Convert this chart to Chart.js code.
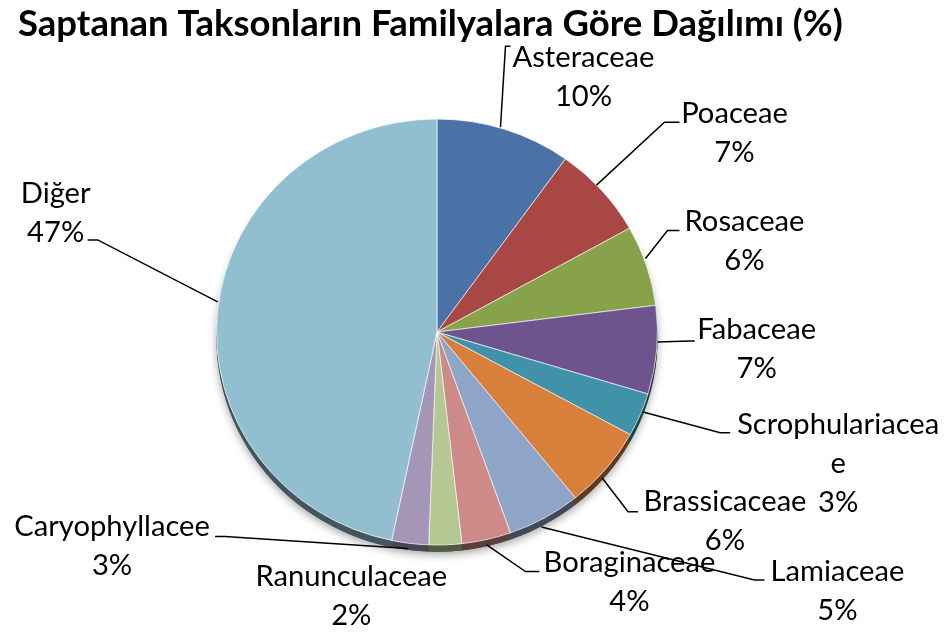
<!DOCTYPE html>
<html>
<head>
<meta charset="utf-8">
<script src="https://cdn.jsdelivr.net/npm/chart.js@4"></script>
<style>
  html, body { margin: 0; padding: 0; background: #ffffff; }
  #wrap { width: 950px; height: 633px; position: relative; }
</style>
</head>
<body>
<div id="wrap"><canvas id="c" width="950" height="633"></canvas></div>
<script>
// ---- data ----
const titleText = 'Saptanan Taksonların Familyalara Göre Dağılımı (%)';
const categories = ['Asteraceae', 'Poaceae', 'Rosaceae', 'Fabaceae', 'Scrophulariaceae', 'Brassicaceae', 'Lamiaceae', 'Boraginaceae', 'Ranunculaceae', 'Caryophyllacee', 'Diğer'];
const values = [9.9, 7.0, 6.1, 6.7, 3.3, 6.2, 5.4, 3.6, 2.4, 2.7, 46.7];
const percentLabels = ['10%', '7%', '6%', '7%', '3%', '6%', '5%', '4%', '2%', '3%', '47%'];
const nameLines = [['Asteraceae'], ['Poaceae'], ['Rosaceae'], ['Fabaceae'], ['Scrophulariacea', 'e'], ['Brassicaceae'], ['Lamiaceae'], ['Boraginaceae'], ['Ranunculaceae'], ['Caryophyllacee'], ['Diğer']];

// ---- styles ----
const colors = ['#4a72a6', '#a94744', '#88a24c', '#6e548c', '#3f92a8', '#d87f3b', '#8ea5c8', '#cd8a88', '#b5c893', '#a596b8', '#92bfd0'];
const FONT = 'Lato, "Open Sans", sans-serif';
const TILT = 0.966;   // slight perspective squash of the pie
const DEPTH = 7;      // thickness of the pie rim
// label layout relative to the outer-edge midpoint of each slice
const labelLayout = [
  { text: [79, -72],   start: [-4, -2], elbow: [1, -83],   end: [6, -83] },
  { text: [133, -77],  start: [-5, -5], elbow: [63, -68],  end: [78, -68] },
  { text: [98, -44],   start: [-1, -7], elbow: [21, -35],  end: [33, -35] },
  { text: [100, -20],  start: [1, -8],  elbow: [33, -9],   end: [38, -9] },
  { text: [198, 10],   start: [2, -3],  elbow: [80, 18],   end: [90, 18] },
  { text: [119, 33],   start: [-4, 9],  elbow: [22, 43],   end: [32, 43] },
  { text: [293, 54],   start: [-3, 9],  elbow: [210, 62],  end: [220, 62] },
  { text: [143, 23],   start: [0, 5],   elbow: [39, 32],   end: [53, 32] },
  { text: [-94, 32],   start: null,     elbow: null,       end: null },
  { text: [-298, -17], start: [-2, 5],  elbow: [-185, -7], end: [-195, -7] },
  { text: [-162, -116],start: [0, -8],  elbow: [-120, -70],end: [-130, -70] }
];

function darken(hex, f) {
  const n = parseInt(hex.slice(1), 16);
  const r = Math.round(((n >> 16) & 255) * f), g = Math.round(((n >> 8) & 255) * f), b = Math.round((n & 255) * f);
  return `rgb(${r},${g},${b})`;
}

const depthPlugin = {
  id: 'depth',
  beforeDatasetsDraw(chart) {
    const ctx = chart.ctx;
    const arcs = chart.getDatasetMeta(0).data;
    const a0 = arcs[0];
    ctx.save();
    ctx.translate(a0.x, a0.y);
    ctx.scale(1, TILT);
    ctx.translate(-a0.x, -a0.y);
    // soft shadow
    ctx.save();
    ctx.shadowColor = 'rgba(0,0,0,0.35)';
    ctx.shadowBlur = 8;
    ctx.shadowOffsetY = 3;
    ctx.beginPath();
    ctx.arc(a0.x, a0.y + DEPTH, a0.outerRadius, 0, Math.PI * 2);
    ctx.fillStyle = '#555';
    ctx.fill();
    ctx.restore();
    arcs.forEach((a, i) => {
      ctx.beginPath();
      ctx.moveTo(a.x, a.y + DEPTH);
      ctx.arc(a.x, a.y + DEPTH, a.outerRadius, a.startAngle, a.endAngle);
      ctx.closePath();
      ctx.fillStyle = darken(colors[i], 0.45);
      ctx.fill();
    });
    // transform stays active for the slices; restored afterwards
  },
  afterDatasetsDraw(chart) {
    chart.ctx.restore();
  }
};

const labelPlugin = {
  id: 'outLabels',
  afterDatasetsDraw(chart) {
    const ctx = chart.ctx;
    const arcs = chart.getDatasetMeta(0).data;
    ctx.save();
    // title
    ctx.font = 'bold 100px ' + FONT;
    const tw = ctx.measureText(titleText).width;
    const tSize = 100 * 825 / tw;
    ctx.font = `bold ${tSize}px ${FONT}`;
    ctx.fillStyle = '#000';
    ctx.textAlign = 'left';
    ctx.textBaseline = 'middle';
    ctx.fillText(titleText, 18, 24);
    // labels
    ctx.font = '100px ' + FONT;
    const lSize = 100 * 142 / ctx.measureText('Asteraceae').width;
    ctx.font = `${lSize}px ${FONT}`;
    ctx.textAlign = 'center';
    arcs.forEach((a, i) => {
      const L = labelLayout[i];
      const mid = (a.startAngle + a.endAngle) / 2;
      const ex = a.x + Math.cos(mid) * a.outerRadius;
      const ey = a.y + Math.sin(mid) * a.outerRadius * TILT;
      if (L.start) {
        ctx.beginPath();
        ctx.moveTo(ex + L.start[0], ey + L.start[1]);
        ctx.lineTo(ex + L.elbow[0], ey + L.elbow[1]);
        ctx.lineTo(ex + L.end[0], ey + L.end[1]);
        ctx.strokeStyle = '#000';
        ctx.lineWidth = 1.5;
        ctx.stroke();
      }
      const lines = nameLines[i].concat([percentLabels[i]]);
      lines.forEach((t, k) => {
        ctx.fillText(t, ex + L.text[0], ey + L.text[1] + k * 39);
      });
    });
    ctx.restore();
  }
};

new Chart(document.getElementById('c'), {
  type: 'pie',
  data: {
    labels: categories,
    datasets: [{
      data: values,
      backgroundColor: colors,
      borderColor: 'rgba(255,255,255,0.7)',
      borderWidth: 1,
      hoverOffset: 0,
      offset: 0
    }]
  },
  options: {
    responsive: false,
    animation: false,
    events: [],
    layout: { padding: { top: 111, bottom: 80, left: 100, right: 176 } },
    plugins: { legend: { display: false }, tooltip: { enabled: false }, title: { display: false } }
  },
  plugins: [depthPlugin, labelPlugin]
});
</script>
</body>
</html>
